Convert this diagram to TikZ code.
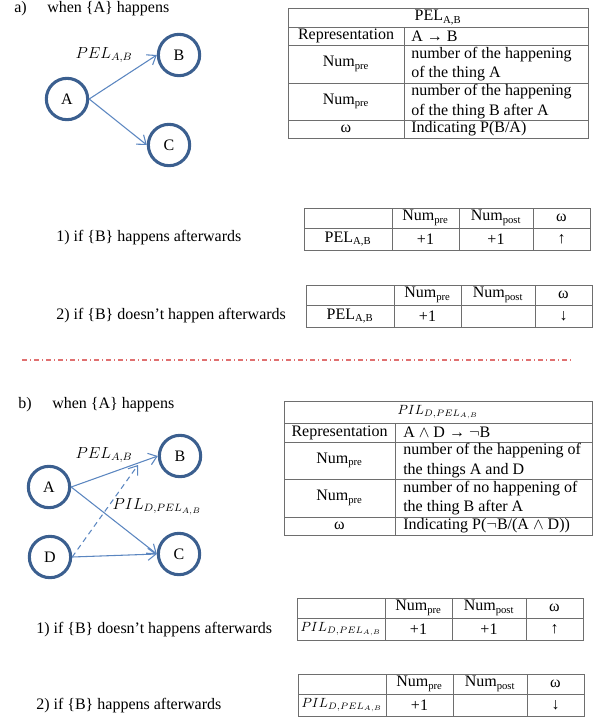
\documentclass[tikz,border=0pt]{standalone}
\usepackage{amsmath,amssymb}
\usepackage{fontspec}
\setmainfont{Liberation Serif}
\usetikzlibrary{arrows.meta}

\definecolor{bord}{HTML}{3B5F8F}
\definecolor{fleche}{HTML}{5B86C0}
\definecolor{trait}{HTML}{6E6E6E}
\definecolor{sep}{HTML}{E07070}

% tableau des compteurs : nom, x, y, ligne, pre, post, omega
\newcommand{\compteurs}[7]{%
  \begin{scope}[shift={(#2,#3)}]
    \draw[grille] (0,0) rectangle (286,42);
    \draw[grille] (0,20) -- (286,20);
    \foreach \c in {88,155,229} \draw[grille] (\c,0) -- (\c,42);
    \node[cell] (#1pre) at (121.5,10) {Num\textsubscript{pre}};
    \node[cell] (#1post) at (192,10) {Num\textsubscript{post}};
    \node[cell] (#1om) at (257.5,10) {ω};
    \node[cell] (#1nom) at (44,31) {#4};
    \node[cell] (#1va) at (121.5,31) {#5};
    \node[cell] (#1vb) at (192,31) {#6};
    \node[cell] (#1vc) at (257.5,31) {#7};
  \end{scope}}

\newcommand{\pil}{$PIL_{D,PEL_{A,B}}$}
\newcommand{\pilpetit}{{\fontsize{10}{12}\selectfont\pil}}

\begin{document}
\begin{tikzpicture}[x=0.75pt, y=-0.75pt, font=\fontsize{12}{14.5}\selectfont,
    etat/.style={circle, draw=bord, line width=2.3pt, minimum size=31pt, inner sep=0pt},
    lien/.style={draw=fleche, line width=0.8pt, -{Straight Barb[length=6pt,width=9pt]}},
    grille/.style={draw=trait, line width=0.7pt},
    txt/.style={anchor=west, inner sep=0pt},
    cell/.style={inner sep=0pt}]

    \useasboundingbox (0,0) rectangle (600,725);

    % Partie a)
    \node[txt] (ta) at (14,9) {a)};
    \node[txt] (tqa) at (47,9) {when \{A\} happens};

    % Graphe a)
    \node[etat] (aA) at (67,99) {A};
    \node[etat] (aB) at (179,55) {B};
    \node[etat] (aC) at (169,145) {C};
    \draw[lien] (aA.east) -- (aB.west);
    \draw[lien] (aA.east) -- (aC.west);
    \node (apel) at (104,55) {$PEL_{A,B}$};

    % Tableau PEL
    \draw[grille] (288,8) rectangle (588,138);
    \foreach \y in {27,45,83,120} \draw[grille] (288,\y) -- (588,\y);
    \draw[grille] (404,27) -- (404,138);
    \node[cell] (pt) at (438,17.5) {PEL\textsubscript{A,B}};
    \node[cell] (pr1) at (346,36) {Representation};
    \node[txt] (pr2) at (411,36) {A → B};
    \node[cell] (pn1) at (346,64) {Num\textsubscript{pre}};
    \node[txt, align=left] (pn2) at (411,64) {number of the happening\\of the thing A};
    \node[cell] (pm1) at (346,101.5) {Num\textsubscript{pre}};
    \node[txt, align=left] (pm2) at (411,101.5) {number of the happening\\of the thing B after A};
    \node[cell] (po1) at (346,129) {ω};
    \node[txt] (po2) at (411,129) {Indicating P(B/A)};

    % Cas de a)
    \node[txt] (ca1) at (56,238) {1) if \{B\} happens afterwards};
    \compteurs{ka}{304}{208}{PEL\textsubscript{A,B}}{+1}{+1}{↑}
    \node[txt] (ca2) at (56,316) {2) if \{B\} doesn’t happen afterwards};
    \compteurs{kb}{306}{285}{PEL\textsubscript{A,B}}{+1}{}{↓}

    % Separation
    \draw[draw=sep, line width=0.8pt, dash pattern=on 4pt off 2pt on 1pt off 2pt] (22,360) -- (572,360);

    % Partie b)
    \node[txt] (tb) at (18,405) {b)};
    \node[txt] (tqb) at (52,405) {when \{A\} happens};

    % Graphe b)
    \node[etat] (bA) at (49,487) {A};
    \node[etat] (bB) at (180,456) {B};
    \node[etat] (bC) at (179,554) {C};
    \node[etat] (bD) at (50,557) {D};
    \coordinate (bpointe) at (138,465);
    \draw[lien] (bA.east) -- (bB.west);
    \draw[lien] (bA.east) -- (bC.west);
    \draw[lien] (bD.east) -- (bC.west);
    \draw[lien, dash pattern=on 4pt off 3pt] (bD.east) -- (bpointe);
    \node (bpel) at (104,455) {$PEL_{A,B}$};
    \node (bpil) at (157,507) {\pil};

    % Tableau PIL
    \draw[grille] (284,401) rectangle (592,535);
    \foreach \y in {423,442,479,517} \draw[grille] (284,\y) -- (592,\y);
    \draw[grille] (395,423) -- (395,535);
    \node[cell] (it) at (438,412) {\pilpetit};
    \node[cell] (ir1) at (339.5,432.5) {Representation};
    \node[txt] (ir2) at (403,432.5) {A $\wedge$ D → $\neg$B};
    \node[cell] (in1) at (339.5,460.5) {Num\textsubscript{pre}};
    \node[txt, align=left] (in2) at (403,460.5) {number of the happening of\\the things A and D};
    \node[cell] (im1) at (339.5,498) {Num\textsubscript{pre}};
    \node[txt, align=left] (im2) at (403,498) {number of no happening of\\the thing B after A};
    \node[cell] (io1) at (339.5,526) {ω};
    \node[txt] (io2) at (403,526) {Indicating P($\neg$B/(A $\wedge$ D))};

    % Cas de b)
    \node[txt] (cb1) at (36,630) {1) if \{B\} doesn’t happens afterwards};
    \compteurs{kc}{297}{598}{\pilpetit}{+1}{+1}{↑}
    \node[txt] (cb2) at (36,706) {2) if \{B\} happens afterwards};
    \compteurs{kd}{298}{674}{\pilpetit}{+1}{}{↓}

\end{tikzpicture}
\end{document}
